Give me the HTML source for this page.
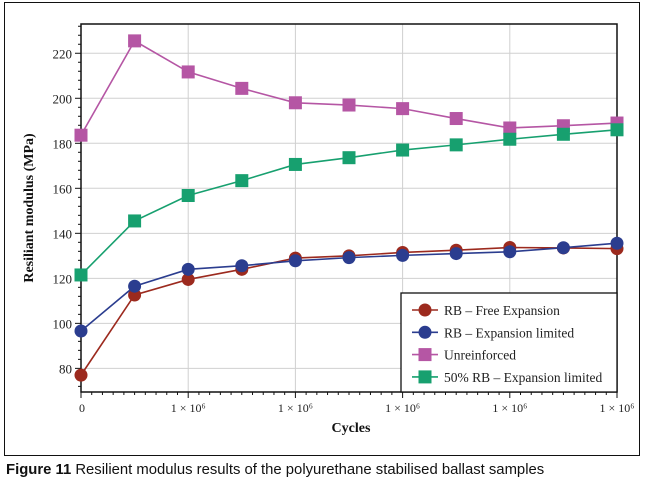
<!DOCTYPE html>
<html><head><meta charset="utf-8"><style>
body{margin:0;background:#fff;width:646px;height:484px;overflow:hidden;font-family:"Liberation Serif",serif}
#frame{position:absolute;left:4px;top:2px;width:634px;height:452px;border:1.5px solid #111}
#cap{position:absolute;left:6px;top:461px;font-family:"Liberation Sans",sans-serif;font-size:15px;color:#111;transform:scaleX(0.99);transform-origin:left top;white-space:nowrap}
svg{position:absolute;left:0;top:0}
</style></head><body>
<div id="frame"></div>
<svg id="chart" width="646" height="484"></svg>
<div id="cap"><b>Figure 11</b> Resilient modulus results of the polyurethane stabilised ballast samples</div>
<script>
const xTickLabels=["0","1 × 10⁶","1 × 10⁶","1 × 10⁶","1 × 10⁶","1 × 10⁶"];
const yTicks=[80,100,120,140,160,180,200,220];
const seriesNames=["RB – Free Expansion","RB – Expansion limited","Unreinforced","50% RB – Expansion limited"];
const freeExp=[77,112.6,119.5,124,129,130,131.5,132.5,133.7,133.5,133.2];
const expLim=[96.6,116.5,124,125.6,127.8,129.2,130.2,131,131.8,133.6,135.6];
const unreinforced=[183.6,225.5,211.7,204.4,198,197,195.4,191,186.8,187.8,189];
const rb50=[121.5,145.5,156.8,163.4,170.6,173.6,177,179.3,181.8,184,186];
const colors=["#9c2a1e","#2b3d8f","#b556a4","#17a06f"];
const L=81,R=617,T=24,B=392,vMin=69.5,vMax=233;
const X=i=>L+(R-L)*i/10, Y=v=>B-(v-vMin)/(vMax-vMin)*(B-T);
const svg=document.getElementById('chart');const NS="http://www.w3.org/2000/svg";
function mk(t,a,p){const e=document.createElementNS(NS,t);for(const k in a)e.setAttribute(k,a[k]);(p||svg).appendChild(e);return e;}
for(let j=0;j<=5;j++){const g=mk('line',{x1:X(j*2),x2:X(j*2),y1:T,y2:B,stroke:'#d0d0d0'});

}
yTicks.forEach(v=>{const g=mk('line',{x1:L,x2:R,y1:Y(v),y2:Y(v),stroke:'#d0d0d0'});

});
const ax=mk('path',{d:`M${L},${T}H${R}V${B}H${L}Z`,fill:'none',stroke:'#111','stroke-width':1.5});


for(let v=72;v<=232;v+=4){const maj=yTicks.includes(v);mk('line',{x1:L-(maj?6:3),x2:L,y1:Y(v),y2:Y(v),stroke:'#111'});}
for(let k=0;k<=50;k++){const x=L+(R-L)*k/50;const maj=k%10==0;mk('line',{x1:x,x2:x,y1:B,y2:B+(maj?6:3),stroke:'#111'});}
yTicks.forEach(v=>{const t=mk('text',{x:L-9,y:Y(v)+5,'text-anchor':'end','font-size':13,fill:'#222'});t.textContent=v;

});
xTickLabels.forEach((s,j)=>{const t=mk('text',{x:X(j*2)+(j==0?1:0),y:B+20,'text-anchor':'middle','font-size':12,fill:'#222'});t.textContent=s;

});
const xt=mk('text',{x:(L+R)/2+2,y:432,'text-anchor':'middle','font-size':14,'font-weight':'bold',fill:'#111'});xt.textContent='Cycles';


const yt=mk('text',{x:0,y:0,'text-anchor':'middle','font-size':14,'font-weight':'bold',fill:'#111',transform:`translate(33,${(T+B)/2}) rotate(-90)`});yt.textContent='Resiliant modulus (MPa)';


function marker(shape,x,y,c,name){let m;if(shape=='c')m=mk('circle',{cx:x,cy:y,r:6.5,fill:c});else m=mk('rect',{x:x-6.5,y:y-6.5,width:13,height:13,fill:c});

}
const all=[[unreinforced,'s',2],[rb50,'s',3],[freeExp,'c',0],[expLim,'c',1]];
all.forEach(([d,sh,ci])=>{const p=mk('polyline',{points:d.map((v,i)=>X(i)+','+Y(v)).join(' '),fill:'none',stroke:colors[ci],'stroke-width':1.6});


d.forEach((v,i)=>marker(sh,X(i),Y(v),colors[ci],'data-point'));});
const lg=mk('rect',{x:401,y:293,width:216,height:99,fill:'#fff',stroke:'#111','stroke-width':1.3});


seriesNames.forEach((n,i)=>{const y=310+i*22.3;mk('line',{x1:412,x2:438,y1:y,y2:y,stroke:colors[i],'stroke-width':1.6});
marker(i<2?'c':'s',425,y,colors[i],'legend-marker');
const t=mk('text',{x:444,y:y+5,'font-size':13.5,fill:'#222'});t.textContent=n;

});
</script>
</body></html>
